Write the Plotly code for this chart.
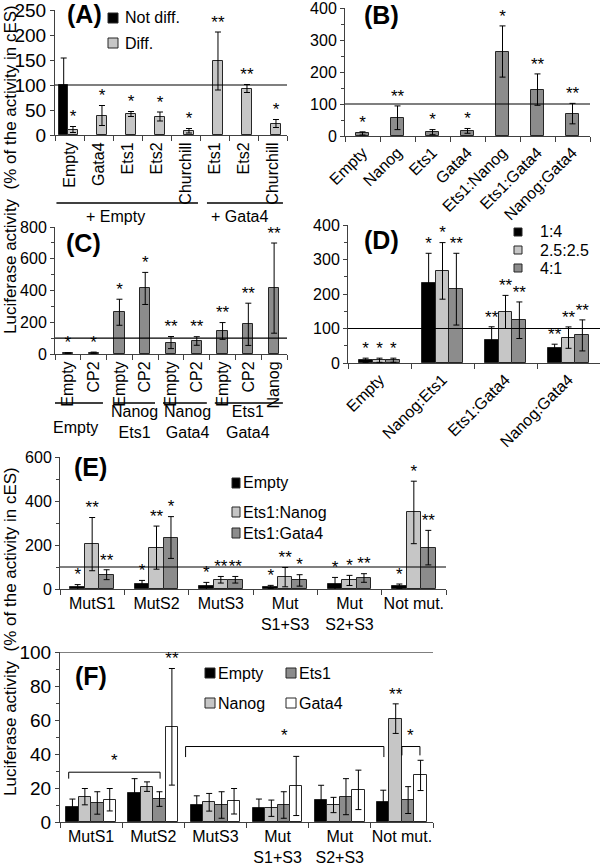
import plotly.graph_objects as go

W, H = 600, 868
FONT = "Liberation Sans, Arial, Helvetica, sans-serif"

# ---------------- data ----------------
A_cats = ["Empty", "Gata4", "Ets1", "Ets2", "Churchill", "Ets1", "Ets2", "Churchill"]
A_notdiff = [100]
A_notdiff_err = [54]
A_diff = [11, 39, 42, 37, 8.5, 148, 93, 23]
A_diff_err = [6, 20, 5, 9, 4.5, 58, 8, 8]
A_diff_stars = ["*", "*", "*", "*", "*", "**", "**", "*"]
A_groups = ["+ Empty", "+ Gata4"]

B_cats = ["Empty", "Nanog", "Ets1", "Gata4", "Ets1:Nanog", "Ets1:Gata4", "Nanog:Gata4"]
B_vals = [8, 57, 12, 16, 264, 145, 70]
B_err = [5, 37, 8, 7.5, 80, 49, 32]
B_stars = ["*", "**", "*", "*", "*", "**", "**"]

C_cats = ["Empty", "CP2", "Empty", "CP2", "Empty", "CP2", "Empty", "CP2", "Nanog"]
C_vals = [5, 8, 263, 413, 72, 82, 145, 187, 415]
C_err = [3, 4, 82, 101, 38, 27, 53, 133, 284]
C_stars = ["*", "*", "*", "*", "**", "**", "**", "**", "**"]
C_groups = ["Empty", "Nanog<br>Ets1", "Nanog<br>Gata4", "Ets1<br>Gata4"]

D_cats = ["Empty", "Nanog:Ets1", "Ets1:Gata4", "Nanog:Gata4"]
D_series = ["1:4", "2.5:2.5", "4:1"]
D_vals = [[8, 232, 66, 44.5], [8, 267, 148, 73.6], [8, 214, 124, 80]]
D_err = [[6, 86, 39, 10], [6, 82, 48, 31], [6, 104, 53, 45]]
D_stars = [["*", "*", "**", "**"], ["*", "*", "**", "**"], ["*", "**", "**", "**"]]

E_cats = ["MutS1", "MutS2", "MutS3", "Mut<br>S1+S3", "Mut<br>S2+S3", "Not mut."]
E_series = ["Empty", "Ets1:Nanog", "Ets1:Gata4"]
E_vals = [[8, 24, 12, 9, 22.6, 12], [204, 188, 42, 54, 39, 348], [65, 234, 42, 39, 50, 188]]
E_err = [[12, 15, 18, 7.5, 30, 10.6], [121, 98, 15, 44, 23, 142], [22.5, 95, 15, 26, 19.6, 78.5]]
E_stars = [["*", "*", "*", "*", "*", "*"], ["**", "**", "**", "**", "*", "*"],
           ["**", "*", "**", "*", "**", "**"]]

F_cats = ["MutS1", "MutS2", "MutS3", "Mut<br>S1+S3", "Mut<br>S2+S3", "Not mut."]
F_series = ["Empty", "Nanog", "Ets1", "Gata4"]
F_vals = [[8.7, 16.8, 10, 8.1, 13.1, 11.6], [14.9, 20.8, 11.6, 8.1, 10, 60.8],
          [11.2, 13.5, 10, 10, 14.9, 12.9], [13.1, 56, 12.2, 21.2, 18.9, 27.4]]
F_err = [[4.8, 8.7, 5.4, 5.4, 8.5, 7.1], [4.8, 2.8, 5.2, 4.8, 4.5, 8.7],
         [6.6, 4.3, 7.8, 7.8, 10.6, 7.9], [6.6, 34.3, 7.5, 17.4, 11.6, 8.9]]
F_stars = [["", "", "", "", "", ""], ["", "", "", "", "", "**"],
           ["", "", "", "", "", ""], ["", "**", "", "", "", ""]]
F_brackets_x0 = [-0.36, 1.52, 5.0]
F_brackets_x1 = [1.11, 4.71, 5.29]
F_brackets_y = [29.3, 44.4, 44.4]
F_brackets_drop = [25.5, 38.2, 39.2]
F_brackets_star = ["*", "*", "*"]

REF_LINE = 100
Y_TITLE = "Luciferase activity  (% of the activity in cES)"

# ---------------- style ----------------
BLACK, LIGHT, DARK, WHITE = "#000000", "#c6c6c6", "#8c8c8c", "#ffffff"
EDGE, AXIS = "#262626", "#404040"
STAR = 17


def px(x):
    return x / W


def py(y):
    return 1 - y / H


fig = go.Figure()
shapes, annotations = [], []


def names(n):
    s = "" if n == 1 else str(n)
    return "x" + s, "y" + s, "xaxis" + s, "yaxis" + s


def setup(n, xpix, ypix, cats, yrange, dtick, minor_dtick, tickangle, xfont, yfont):
    xr, yr, xa, ya = names(n)
    fig.layout[xa] = dict(
        domain=[px(xpix[0]), px(xpix[1])], range=[-0.5, len(cats) - 0.5], anchor=yr,
        tickmode="array", tickvals=list(range(len(cats))), ticktext=cats, ticks="",
        tickangle=tickangle, tickfont=dict(size=xfont, color="black", family=FONT),
        showline=True, linecolor=AXIS, linewidth=1, showgrid=False, zeroline=False,
        automargin=False, ticklabeloverflow="allow",
        minor=dict(ticks="outside", tickmode="linear", tick0=-0.5, dtick=1, ticklen=5,
                   tickcolor=AXIS, showgrid=False),
        fixedrange=True)
    ydict = dict(
        domain=[py(ypix[1]), py(ypix[0])], range=yrange, anchor=xr,
        tickmode="linear", tick0=0, dtick=dtick, ticks="outside", ticklen=4, tickcolor=AXIS,
        tickfont=dict(size=yfont, color="black", family=FONT),
        showline=True, linecolor=AXIS, linewidth=1, showgrid=False, zeroline=False,
        automargin=False, ticklabeloverflow="allow", fixedrange=True)
    if minor_dtick:
        ydict["minor"] = dict(ticks="outside", dtick=minor_dtick, ticklen=3, tickcolor=AXIS,
                              showgrid=False)
    fig.layout[ya] = ydict


def add_series(n, vals, errs, stars, offset, width, color):
    xr, yr, _, _ = names(n)
    xs = [i + offset for i in range(len(vals))]
    fig.add_trace(go.Bar(
        x=xs, y=vals, width=width, xaxis=xr, yaxis=yr, showlegend=False,
        marker=dict(color=color, line=dict(color=EDGE, width=1)),
        error_y=dict(type="data", array=errs, visible=True, color="black",
                     thickness=1, width=3)))
    fig.add_trace(go.Scatter(
        x=xs, y=[v + e for v, e in zip(vals, errs)], text=stars, mode="text",
        textposition="top center", xaxis=xr, yaxis=yr, showlegend=False,
        cliponaxis=False, hoverinfo="skip",
        textfont=dict(size=STAR, color="black", family=FONT)))


def ref_line(n):
    xr, yr, _, _ = names(n)
    shapes.append(dict(type="line", xref=xr + " domain", yref=yr, x0=0, x1=1,
                       y0=REF_LINE, y1=REF_LINE, line=dict(color="black", width=1.2)))


def panel_label(text, x, y):
    annotations.append(dict(text=f"<b>{text}</b>", x=px(x), y=py(y), xref="paper", yref="paper",
                            showarrow=False, xanchor="center", yanchor="middle",
                            font=dict(size=25, color="black", family=FONT)))


def legend_item(label, color, cx, cy, w, h, tx, size=16):
    shapes.append(dict(type="rect", xref="paper", yref="paper",
                       x0=px(cx - w / 2), x1=px(cx + w / 2), y0=py(cy + h / 2), y1=py(cy - h / 2),
                       fillcolor=color, line=dict(color=EDGE, width=1)))
    annotations.append(dict(text=label, x=px(tx), y=py(cy), xref="paper", yref="paper",
                            showarrow=False, xanchor="left", yanchor="middle", borderpad=0,
                            font=dict(size=size, color="black", family=FONT)))


def text_at(text, xref, x, y, size=16):
    annotations.append(dict(text=text, x=x, y=py(y), xref=xref, yref="paper", showarrow=False,
                            xanchor="center", yanchor="middle",
                            font=dict(size=size, color="black", family=FONT)))


def hline(xref, x0, x1, y):
    shapes.append(dict(type="line", xref=xref, yref="paper", x0=x0, x1=x1, y0=py(y), y1=py(y),
                       line=dict(color="black", width=1.5)))


# ---------------- panel A ----------------
setup(1, (55, 287), (10, 135), A_cats, [0, 250], 50, None, -90, 16, 19)
add_series(1, A_notdiff, A_notdiff_err, [""], -0.2, 0.33, BLACK)
add_series(1, A_diff, A_diff_err, A_diff_stars, 0.12, 0.32, LIGHT)
ref_line(1)
panel_label("(A)", 84, 14)
legend_item("Not diff.", BLACK, 113, 18, 10, 10, 124)
legend_item("Diff.", LIGHT, 113, 43, 10, 10, 124)
hline("x", -0.45, 4.43, 203)
hline("x", 4.74, 7.36, 203)
text_at(A_groups[0], "x", 1.57, 216)
text_at(A_groups[1], "x", 5.85, 216)

# ---------------- panel B ----------------
setup(2, (345, 590), (8, 136), B_cats, [0, 400], 100, 50, -45, 16, 16)
add_series(2, B_vals, B_err, B_stars, 0, 0.38, DARK)
ref_line(2)
panel_label("(B)", 381, 15)

# ---------------- panel C ----------------
setup(3, (55, 287), (227, 354), C_cats, [0, 800], 200, 100, -90, 16, 16)
add_series(3, C_vals, C_err, C_stars, 0, 0.4, DARK)
ref_line(3)
panel_label("(C)", 83, 243)
for x0, x1 in [(-0.54, 1.36), (1.79, 3.38), (3.69, 5.39), (5.7, 8.34)]:
    hline("x3", x0, x1, 403)
text_at(C_groups[0], "x3", 0.28, 427)
text_at(C_groups[1], "x3", 2.6, 422)
text_at(C_groups[2], "x3", 4.64, 422)
text_at(C_groups[3], "x3", 7.0, 422)

# ---------------- panel D ----------------
setup(4, (348, 600), (225, 363), D_cats, [0, 400], 100, 50, -45, 16, 16)
d_colors = [BLACK, LIGHT, DARK]
for k in range(3):
    add_series(4, D_vals[k], D_err[k], D_stars[k], (k - 1) * 0.22, 0.22, d_colors[k])
ref_line(4)
panel_label("(D)", 381, 240)
for k, yy in enumerate([232, 250, 268]):
    legend_item(D_series[k], d_colors[k], 518, yy, 8, 8, 539)

# ---------------- panel E ----------------
setup(5, (60, 446), (457, 589), E_cats, [0, 600], 200, 100, 0, 16, 16)
e_colors = [BLACK, LIGHT, DARK]
for k in range(3):
    add_series(5, E_vals[k], E_err[k], E_stars[k], (k - 1) * 0.225, 0.225, e_colors[k])
ref_line(5)
panel_label("(E)", 90, 467)
for k, yy in enumerate([483, 512, 533]):
    legend_item(E_series[k], e_colors[k], 236, yy, 8, 10, 242)

# ---------------- panel F ----------------
setup(6, (60, 433), (652, 822), F_cats, [0, 100], 20, 10, 0, 16, 19)
f_colors = [BLACK, LIGHT, DARK, WHITE]
for k in range(4):
    add_series(6, F_vals[k], F_err[k], F_stars[k], (k - 1.5) * 0.2, 0.2, f_colors[k])
ref_line(6)
panel_label("(F)", 91, 676)
legend_item(F_series[0], BLACK, 210, 673, 10, 10, 217)
legend_item(F_series[2], DARK, 291, 673, 10, 10, 298)
legend_item(F_series[1], LIGHT, 210, 703, 10, 10, 217)
legend_item(F_series[3], WHITE, 291, 703, 10, 10, 298)
for x0, x1, yb, yd, st in zip(F_brackets_x0, F_brackets_x1, F_brackets_y, F_brackets_drop,
                              F_brackets_star):
    shapes.append(dict(type="path", xref="x6", yref="y6",
                       path=f"M {x0},{yd} L {x0},{yb} L {x1},{yb} L {x1},{yd}",
                       line=dict(color="black", width=1)))
    annotations.append(dict(text=st, x=(x0 + x1) / 2, y=yb, xref="x6", yref="y6",
                            showarrow=False, yanchor="bottom", xanchor="center",
                            font=dict(size=STAR, color="black", family=FONT)))

# ---------------- y titles ----------------
for yc in (170, 632):
    annotations.append(dict(text=Y_TITLE, x=px(10), y=py(yc), xref="paper", yref="paper",
                            showarrow=False, textangle=-90, xanchor="center", yanchor="middle",
                            font=dict(size=17, color="black", family=FONT)))

fig.update_layout(
    template="none",
    width=W, height=H, margin=dict(l=0, r=0, t=0, b=0, autoexpand=False),
    paper_bgcolor="white", plot_bgcolor="white", barmode="overlay", bargap=0,
    font=dict(family=FONT, color="black"), showlegend=False,
    shapes=shapes, annotations=annotations)

fig.write_html("out.html", config={"displayModeBar": False},
               post_script="document.body.style.margin='0';document.body.style.overflow='hidden';")
